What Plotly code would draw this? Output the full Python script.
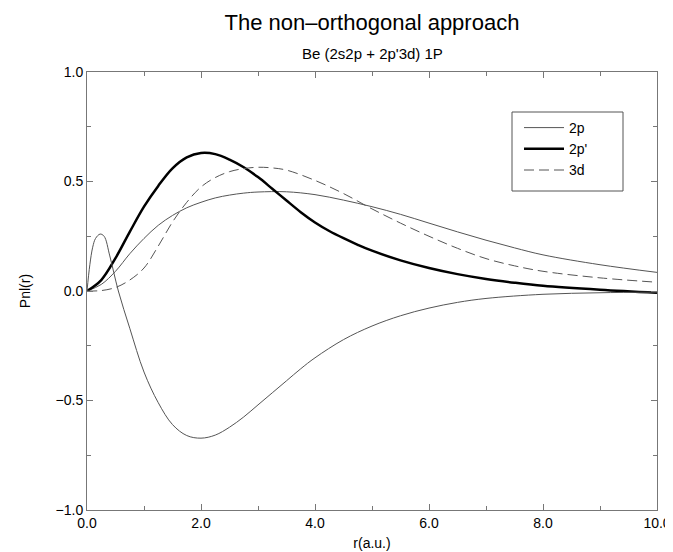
import plotly.graph_objects as go

# ---- data ----
r_2p = [0, 0.25, 0.5, 0.75, 1.0, 1.25, 1.5, 1.75, 2.0, 2.25, 2.5, 2.75, 3.0, 3.5, 4.0, 4.5, 5.0, 5.5, 6.0, 6.5, 7.0, 7.5, 8.0, 9.0, 10.0]
p_2p = [0, 0.03, 0.09, 0.17, 0.24, 0.30, 0.345, 0.38, 0.405, 0.425, 0.438, 0.447, 0.452, 0.453, 0.44, 0.415, 0.385, 0.35, 0.31, 0.27, 0.232, 0.197, 0.165, 0.12, 0.085]

r_2pp = [0, 0.25, 0.5, 0.75, 1.0, 1.25, 1.5, 1.75, 2.0, 2.25, 2.5, 2.75, 3.0, 3.25, 3.5, 3.75, 4.0, 4.25, 4.5, 4.75, 5.0, 5.5, 6.0, 6.5, 7.0, 7.5, 8.0, 9.0, 10.0]
p_2pp = [0, 0.05, 0.15, 0.27, 0.385, 0.48, 0.56, 0.61, 0.63, 0.625, 0.60, 0.565, 0.52, 0.467, 0.413, 0.36, 0.313, 0.274, 0.241, 0.211, 0.184, 0.14, 0.105, 0.077, 0.055, 0.038, 0.024, 0.006, -0.008]

r_3d = [0, 0.25, 0.5, 0.75, 1.0, 1.25, 1.5, 1.75, 2.0, 2.25, 2.5, 2.75, 3.0, 3.25, 3.5, 4.0, 4.5, 5.0, 5.5, 6.0, 6.5, 7.0, 7.5, 8.0, 9.0, 10.0]
p_3d = [0, 0.002, 0.016, 0.05, 0.105, 0.205, 0.315, 0.405, 0.475, 0.518, 0.545, 0.559, 0.565, 0.562, 0.552, 0.505, 0.445, 0.375, 0.31, 0.25, 0.195, 0.148, 0.115, 0.09, 0.06, 0.04]

r_2s = [0, 0.05, 0.1, 0.15, 0.23, 0.3, 0.4, 0.55, 0.75, 1.0, 1.25, 1.5, 1.75, 2.0, 2.25, 2.5, 2.75, 3.0, 3.25, 3.5, 3.75, 4.0, 4.5, 5.0, 5.5, 6.0, 6.5, 7.0, 8.0, 9.0, 10.0]
p_2s = [0, 0.12, 0.2, 0.24, 0.26, 0.25, 0.16, 0.0, -0.17, -0.37, -0.51, -0.61, -0.66, -0.672, -0.658, -0.622, -0.575, -0.52, -0.465, -0.41, -0.355, -0.305, -0.222, -0.16, -0.113, -0.078, -0.052, -0.034, -0.015, -0.008, -0.005]

x_ticks = [0, 2, 4, 6, 8, 10]
y_ticks = [-1.0, -0.5, 0.0, 0.5, 1.0]

THIN = "#555555"
AXC = "#777777"
FONT = "Liberation Sans, Arial, Helvetica, sans-serif"

# page body adds an 8px offset, so the figure is 8px smaller than the window
W, H = 665, 544
L, T, R, B = 79, 64, 16, 42

fig = go.Figure()
fig.add_trace(go.Scatter(x=r_2p, y=p_2p, mode="lines", name="2p",
                         line=dict(color=THIN, width=1, shape="spline")))
fig.add_trace(go.Scatter(x=r_2pp, y=p_2pp, mode="lines", name="2p'",
                         line=dict(color="black", width=2.5, shape="spline")))
fig.add_trace(go.Scatter(x=r_3d, y=p_3d, mode="lines", name="3d",
                         line=dict(color=THIN, width=1, dash="10px,5px", shape="spline")))
fig.add_trace(go.Scatter(x=r_2s, y=p_2s, mode="lines", name="2s", showlegend=False,
                         line=dict(color=THIN, width=1, shape="spline")))

axis_common = dict(
    showgrid=False, zeroline=False, showline=True, linecolor=AXC, linewidth=1,
    mirror="allticks", ticks="inside", ticklen=6, tickcolor=AXC, automargin=False,
    tickformat=".1f", tickfont=dict(size=14, color="black", family=FONT),
)

fig.update_xaxes(range=[0, 10], tickvals=x_ticks,
                 minor=dict(dtick=1, ticks="inside", ticklen=4, tickcolor=AXC),
                 title=dict(text="r(a.u.)", font=dict(size=14, family=FONT), standoff=8),
                 **axis_common)
fig.update_yaxes(range=[-1, 1], tickvals=y_ticks,
                 minor=dict(dtick=0.25, ticks="inside", ticklen=4, tickcolor=AXC),
                 title=dict(text="Pnl(r)", font=dict(size=14, family=FONT), standoff=21),
                 **axis_common)

pw, ph = W - L - R, H - T - B
# legend frame (reference box: x 512..623, y 112..191 in window pixels)
def px_x(X):
    return (X - 8 - L) / pw
def px_y(Y):
    return 1 - (Y - 8 - T) / ph

fig.update_layout(
    width=W, height=H,
    margin=dict(l=L, r=R, t=T, b=B, autoexpand=False),
    paper_bgcolor="white", plot_bgcolor="white",
    font=dict(family=FONT, color="black"),
    title=dict(text="The non–orthogonal approach", xref="paper", x=0.5, xanchor="center",
               yref="container", y=1 - 14 / H, yanchor="middle",
               font=dict(size=22, family=FONT)),
    legend=dict(x=px_x(519), y=px_y(112), xanchor="left", yanchor="top",
                borderwidth=0, bgcolor="rgba(255,255,255,0)",
                font=dict(size=14, family=FONT), tracegroupgap=0, itemwidth=40),
    shapes=[dict(type="rect", xref="paper", yref="paper",
                 x0=px_x(512), x1=px_x(623), y0=px_y(191), y1=px_y(112),
                 line=dict(color="#555555", width=1), fillcolor="white", layer="below")],
    annotations=[dict(text="Be (2s2p + 2p'3d) 1P", xref="paper", yref="paper",
                      x=0.5, y=1.0, yshift=19, xanchor="center", yanchor="middle",
                      showarrow=False, font=dict(size=15, family=FONT))],
)

fig.write_html("out.html")
